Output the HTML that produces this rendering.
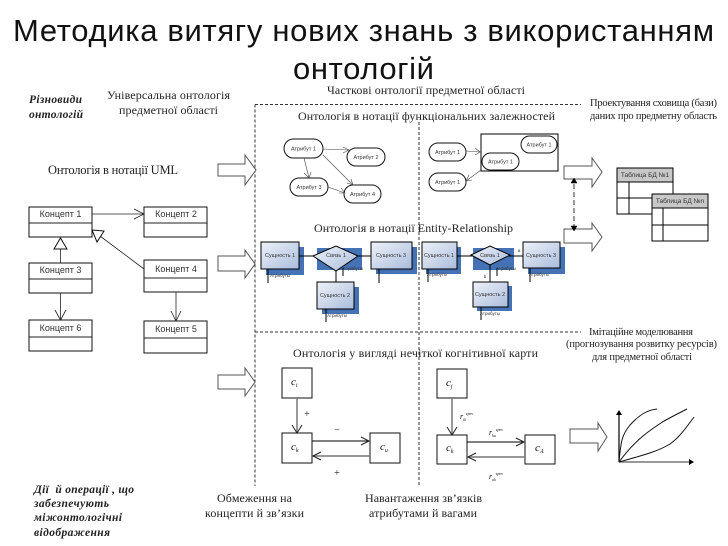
<!DOCTYPE html>
<html><head><meta charset="utf-8"><style>
html,body{margin:0;padding:0;background:#fff}
svg{display:block}
.s{font-family:"Liberation Serif",serif;font-size:12px;fill:#222}
.a{font-family:"Liberation Sans",sans-serif;fill:#333}
.bi{font-family:"Liberation Serif",serif;font-size:11.5px;font-weight:bold;font-style:italic;fill:#222}
.m{font-family:"Liberation Serif",serif;font-style:italic;fill:#111}
.u{font-family:"Liberation Sans",sans-serif;font-size:9px;fill:#333;text-anchor:middle}
.n{fill:#fff;stroke:#111;stroke-width:1}
.l{fill:none;stroke:#222;stroke-width:.8}
.ent{fill:url(#g);stroke:#000;stroke-width:1}
.sh{fill:#4472b4}
.ar{fill:#fff;stroke:#555;stroke-width:1}
.d{fill:none;stroke:#333;stroke-width:1;stroke-dasharray:3 2}
</style></head><body>
<svg width="728" height="546" viewBox="0 0 728 546" xmlns="http://www.w3.org/2000/svg">
<defs><linearGradient id="g" x1="0" y1="0" x2="1" y2="1"><stop offset="0" stop-color="#eef2f9"/><stop offset="1" stop-color="#a9bcdc"/></linearGradient></defs>
<rect width="728" height="546" fill="#fff"/>

<text x="13" y="41" class="a" style="fill:#111" font-size="31" textLength="701" lengthAdjust="spacing">Методика витягу нових знань з використанням</text>
<text x="293" y="79" class="a" style="fill:#111" font-size="31" textLength="141" lengthAdjust="spacing">онтологій</text>

<text x="29" y="103" class="bi" textLength="53" lengthAdjust="spacing">Різновиди</text>
<text x="29" y="118" class="bi" textLength="54" lengthAdjust="spacing">онтологій</text>
<text x="107" y="99" class="s" textLength="123" lengthAdjust="spacing">Універсальна онтологія</text>
<text x="119" y="114" class="s" textLength="99" lengthAdjust="spacing">предметної області</text>
<text x="327" y="94" class="s" textLength="198" lengthAdjust="spacing">Часткові онтології предметної області</text>
<text x="298" y="120" class="s" textLength="257" lengthAdjust="spacing">Онтологія в нотації функціональних залежностей</text>
<text x="590" y="106" class="s" style="font-size:10.5px" textLength="127" lengthAdjust="spacing">Проектування сховища (бази)</text>
<text x="590" y="119" class="s" style="font-size:10.5px" textLength="127" lengthAdjust="spacing">даних про предметну область</text>
<text x="48" y="174" class="s" textLength="130" lengthAdjust="spacing" style="font-size:12.5px">Онтологія в нотації UML</text>
<text x="314" y="232" class="s" textLength="199" lengthAdjust="spacing">Онтологія в нотації Entity-Relationship</text>
<text x="589" y="335" class="s" style="font-size:10.5px" textLength="104" lengthAdjust="spacing">Імітаційне моделювання</text>
<text x="566" y="347" class="s" style="font-size:10.5px" textLength="151" lengthAdjust="spacing">(прогнозування розвитку ресурсів)</text>
<text x="592" y="360" class="s" style="font-size:10.5px" textLength="100" lengthAdjust="spacing">для предметної області</text>
<text x="293" y="357" class="s" textLength="245" lengthAdjust="spacing">Онтологія у вигляді нечіткої когнітивної карти</text>
<text x="34" y="493" class="bi" textLength="100" lengthAdjust="spacing" xml:space="preserve">Дії  й операції , що</text>
<text x="34" y="507" class="bi" textLength="75" lengthAdjust="spacing">забезпечують</text>
<text x="34" y="521" class="bi" textLength="88" lengthAdjust="spacing">міжонтологічні</text>
<text x="34" y="536" class="bi" textLength="76" lengthAdjust="spacing">відображення</text>
<text x="217" y="502" class="s" textLength="75" lengthAdjust="spacing">Обмеження на</text>
<text x="205" y="517" class="s" textLength="99" lengthAdjust="spacing">концепти й зв’язки</text>
<text x="365" y="502" class="s" textLength="117" lengthAdjust="spacing">Навантаження зв’язків</text>
<text x="369" y="517" class="s" textLength="108" lengthAdjust="spacing">атрибутами й вагами</text>

<!-- dashed frame -->
<path class="d" d="M255 104.5H581M255 104.5V486M419 122V486M255 332H581"/>

<!-- block arrows -->
<path class="ar" d="M218 164H245V155L256 170L245 185V176H218Z"/>
<path class="ar" d="M218 256H245V250L255 264L245 278V271H218Z"/>
<path class="ar" d="M218 375H245V368L255 382L245 396V389H218Z"/>
<path class="ar" d="M564 166H592V158L602 172L592 187V179H564Z"/>
<path class="ar" d="M564 229H592V223L602 237L592 251V243H564Z"/>
<path class="ar" d="M570 429H598V423L607 437L598 451V443H570Z"/>

<!-- dashed double arrow -->
<path d="M574 184V226" stroke="#999" stroke-width="2" stroke-dasharray="5 3" fill="none"/>
<path d="M574 178L577 183H571ZM574 231L577 226H571Z" fill="#000" stroke="#000" stroke-width=".5"/>

<!-- UML -->
<g>
<rect class="n" x="29" y="207" width="63" height="30"/><path class="l" style="stroke-width:1" d="M29 223H92"/>
<rect class="n" x="144" y="207" width="63" height="30"/><path class="l" style="stroke-width:1" d="M144 223H207"/>
<rect class="n" x="29" y="263" width="63" height="30"/><path class="l" style="stroke-width:1" d="M29 279H92"/>
<rect class="n" x="144" y="260" width="63" height="32"/><path class="l" style="stroke-width:1" d="M144 278H207"/>
<rect class="n" x="29" y="320" width="63" height="31"/><path class="l" style="stroke-width:1" d="M29 337H92"/>
<rect class="n" x="144" y="321" width="63" height="32"/><path class="l" style="stroke-width:1" d="M144 338H207"/>
<text x="60.5" y="217" class="u">Концепт 1</text>
<text x="176" y="217" class="u">Концепт 2</text>
<text x="60.5" y="273" class="u">Концепт 3</text>
<text x="176" y="272" class="u">Концепт 4</text>
<text x="60.5" y="331" class="u">Концепт 6</text>
<text x="176" y="332" class="u">Концепт 5</text>
<path class="l" d="M92 214H144M134 209L144 214L134 219"/>
<path class="n" d="M60.5 238L67 249H54Z"/>
<path class="l" d="M60.5 249V263"/>
<path class="l" d="M144 269L100 236"/>
<path class="n" d="M92 230L104 231L97 242Z"/>
<path class="l" d="M60.5 293V320M55 310L60.5 320L66 310"/>
<path class="l" d="M176 292V321M171 311L176 321L181 311"/>
</g>

<!-- functional nodes -->
<g>
<rect class="n" x="284" y="139" width="39" height="19" rx="9.5"/>
<rect class="n" x="347" y="148" width="38" height="18" rx="9"/>
<rect class="n" x="290" y="178" width="38" height="18" rx="9"/>
<rect class="n" x="344" y="185" width="37" height="18" rx="9"/>
<rect x="481" y="134" width="77" height="37" fill="#fff" stroke="#000" stroke-width="1"/>
<rect class="n" x="429" y="143" width="37" height="18" rx="9"/>
<rect class="n" x="429" y="173" width="37" height="18" rx="9"/>
<rect class="n" x="521" y="136" width="36" height="17" rx="8.5"/>
<rect class="n" x="482" y="153" width="37" height="17" rx="8.5"/>
<g class="a" font-size="5.5" text-anchor="middle">
<text x="303.5" y="150.5">Атрибут 1</text>
<text x="366" y="159">Атрибут 2</text>
<text x="309" y="189">Атрибут 3</text>
<text x="362.5" y="196">Атрибут 4</text>
<text x="447.5" y="154">Атрибут 1</text>
<text x="447.5" y="184">Атрибут 1</text>
<text x="539" y="146.5">Атрибут 1</text>
<text x="500.5" y="163.5">Атрибут 1</text>
</g>
<g class="l" style="stroke:#444;stroke-width:.6">
<path d="M323 149L349 150M343 147L349 150L343 153"/>
<path d="M304 158L309 178M304 173L309 178L311 172"/>
<path d="M323 155L353 185M347 183L353 185L351 179"/>
<path d="M328 187L345 193M339 193L345 193L341 188"/>
<path d="M466 151L480 152M475 148L480 152L475 155"/>
<path d="M481 170L466 181M472 180L466 181L469 175"/>
</g>
</g>

<!-- ER left -->
<g>
<rect class="sh" x="266" y="247" width="38" height="28"/>
<rect class="sh" x="317" y="248" width="45" height="22"/>
<rect class="sh" x="376" y="247" width="41" height="27"/>
<rect class="sh" x="322" y="287" width="37" height="27"/>
<path class="l" style="stroke:#000;stroke-width:1" d="M299 256H371M336 271V282M343 268V276M268 269V283M379 269V283M326 309V322"/>
<rect class="ent" x="261" y="242" width="38" height="27"/>
<rect class="ent" x="371" y="242" width="41" height="27"/>
<rect class="ent" x="317" y="282" width="37" height="27"/>
<path d="M313 256L336 246L358 256L336 271Z" fill="url(#g)" stroke="#000" stroke-width="1"/>
</g>
<!-- ER right -->
<g>
<rect class="sh" x="426" y="247" width="35" height="27"/>
<rect class="sh" x="473" y="248" width="41" height="22"/>
<rect class="sh" x="528" y="247" width="37" height="27"/>
<rect class="sh" x="477" y="286" width="35" height="25"/>
<path class="l" style="stroke:#000;stroke-width:1" d="M457 256H523M490 265V282M497 268V276M428 269V282M530 268V282M481 307V320"/>
<rect class="ent" x="422" y="242" width="35" height="27"/>
<rect class="ent" x="523" y="242" width="37" height="26"/>
<rect class="ent" x="473" y="282" width="35" height="25"/>
<path d="M471 255L490 246L510 255L490 265Z" fill="url(#g)" stroke="#000" stroke-width="1"/>
</g>
<g class="a" font-size="5.5" text-anchor="middle">
<text x="280" y="257">Сущность 1</text>
<text x="336" y="257">Связь 1</text>
<text x="391" y="257">Сущность 3</text>
<text x="335" y="297">Сущность 2</text>
<text x="439" y="257">Сущность 1</text>
<text x="490" y="257">Связь 1</text>
<text x="541" y="257">Сущность 3</text>
<text x="490" y="296">Сущность 2</text>
</g>
<g class="a" font-size="4.5" text-anchor="middle" fill="#555">
<text x="280" y="277">Атрибуты</text>
<text x="353" y="270">Атрибуты</text>
<text x="337" y="317">Атрибуты</text>
<text x="437" y="276">Атрибуты</text>
<text x="506" y="270">Атрибуты</text>
<text x="539" y="276">Атрибуты</text>
<text x="490" y="315">Атрибуты</text>
<text x="485" y="278">b</text>
<text x="519" y="252">a</text>
</g>

<!-- Cognitive map -->
<g>
<rect class="n" x="282" y="368" width="30" height="30"/>
<rect class="n" x="282" y="433" width="30" height="30"/>
<rect class="n" x="370" y="433" width="30" height="30"/>
<rect class="n" x="437" y="369" width="30" height="29"/>
<rect class="n" x="437" y="435" width="30" height="29"/>
<rect class="n" x="525" y="435" width="30" height="29"/>
<text x="291" y="385" class="m" font-size="11">c<tspan font-size="6" dy="2">i</tspan></text>
<text x="291" y="450" class="m" font-size="11">c<tspan font-size="6" dy="2">k</tspan></text>
<text x="380" y="450" class="m" font-size="11">c<tspan font-size="6" dy="2">u</tspan></text>
<text x="446" y="386" class="m" font-size="11">c<tspan font-size="6" dy="2">j</tspan></text>
<text x="446" y="451" class="m" font-size="11">c<tspan font-size="6" dy="2">k</tspan></text>
<text x="535" y="451" class="m" font-size="11">c<tspan font-size="6" dy="2">A</tspan></text>
<g fill="none">
<path d="M297 398V433" stroke="#777" stroke-width="1.5"/>
<path d="M292 425L297 433L302 425" stroke="#222" stroke-width="1"/>
<path d="M312 441H369" stroke="#000" stroke-width="1"/>
<path d="M361 437L369 441L361 445" stroke="#222" stroke-width="1"/>
<path d="M370 456H313" stroke="#777" stroke-width="1.5"/>
<path d="M321 452L313 456L321 460" stroke="#222" stroke-width="1"/>
<path d="M452 398V435" stroke="#777" stroke-width="1.5"/>
<path d="M447 427L452 435L457 427" stroke="#222" stroke-width="1"/>
<path d="M467 442H524" stroke="#000" stroke-width="1"/>
<path d="M516 438L524 442L516 446" stroke="#222" stroke-width="1"/>
<path d="M525 457H468" stroke="#777" stroke-width="1.5"/>
<path d="M476 453L468 457L476 461" stroke="#222" stroke-width="1"/>
</g>
<g class="s" style="font-size:10px" text-anchor="middle">
<text x="307" y="417">+</text>
<text x="337" y="433">−</text>
<text x="337" y="476">+</text>
</g>
<g class="m" font-size="8">
<text x="460" y="419">r<tspan font-size="4" dy="2">ik</tspan><tspan font-size="4" dy="-6">zpev</tspan></text>
<text x="489" y="435">r<tspan font-size="4" dy="2">ku</tspan><tspan font-size="4" dy="-6">zpev</tspan></text>
<text x="489" y="479">r<tspan font-size="4" dy="2">uk</tspan><tspan font-size="4" dy="-6">zpev</tspan></text>
</g>
</g>

<!-- DB tables -->
<g>
<rect x="617" y="168" width="56" height="46" fill="#fff" stroke="#000"/>
<rect x="617" y="168" width="56" height="14" fill="#c8c8c8" stroke="#000"/>
<path d="M617 198H673M629 182V214" stroke="#000" fill="none"/>
<text x="645" y="177" class="a" font-size="6.5" text-anchor="middle">Таблица БД №1</text>
<rect x="652" y="194" width="56" height="47" fill="#fff" stroke="#000"/>
<rect x="652" y="194" width="56" height="14" fill="#c8c8c8" stroke="#000"/>
<path d="M652 225H708M663 208V241" stroke="#000" fill="none"/>
<text x="680" y="203" class="a" font-size="6.5" text-anchor="middle">Таблица БД №n</text>
</g>

<!-- chart -->
<g fill="none">
<path d="M619 462V414" stroke="#000" stroke-width="1.2"/>
<path d="M619 410L622 415H616Z" fill="#000"/>
<path d="M619 462H690" stroke="#777" stroke-width="1.5"/>
<path d="M694 462L689 459V465Z" fill="#000"/>
<path d="M619 462C621 440 622 435 630 425C640 414 648 410 657 409" stroke="#111" stroke-width="1"/>
<path d="M619 462C635 440 650 430 664 421C675 415 683 411 687 409" stroke="#111" stroke-width="1"/>
<path d="M619 462C640 456 657 452 670 444C680 437 688 425 694 417" stroke="#111" stroke-width="1"/>
</g>
</svg>
</body></html>
